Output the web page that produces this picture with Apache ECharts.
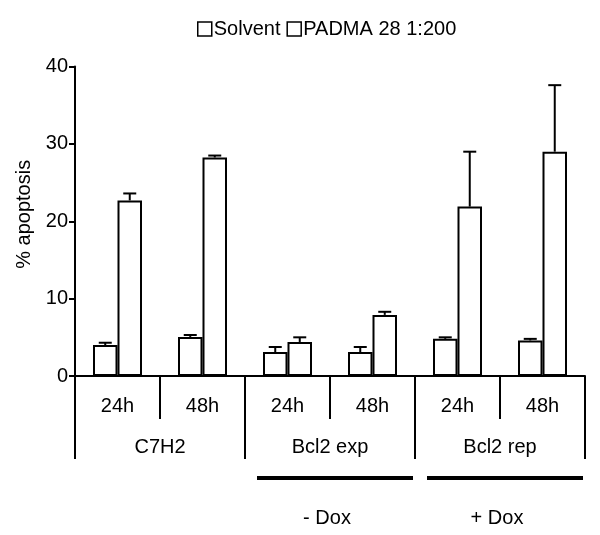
<!DOCTYPE html>
<html>
<head>
<meta charset="utf-8">
<script src="https://cdn.jsdelivr.net/npm/echarts@6/dist/echarts.min.js"></script>
<style>html,body{margin:0;padding:0;background:#fff}#c{width:600px;height:535px}</style>
</head>
<body>
<div id="c"></div>
<script>
const categories = ['24h', '48h', '24h', '48h', '24h', '48h'];
const groups = ['C7H2', 'Bcl2 exp', 'Bcl2 rep'];
const seriesNames = ['Solvent', 'PADMA 28 1:200'];
const solvent = [4.0, 5.05, 3.1, 3.1, 4.8, 4.6];
const solventErr = [0.3, 0.25, 0.65, 0.65, 0.2, 0.2];
const padma = [22.7, 28.25, 4.4, 7.9, 21.9, 29.0];
const padmaErr = [0.9, 0.25, 0.6, 0.4, 7.1, 8.6];
const treatmentGroups = [1, 2];
const treatments = ['- Dox', '+ Dox'];
const yTicks = { min: 0, max: 40, interval: 10 };

const FONT = '"Liberation Sans", Arial, sans-serif';
const BAR_W = 24.5;

function errData(vals, errs) { return vals.map((v, i) => [i, v, errs[i]]); }

function errRender(side) {
  return function (params, api) {
    const i = api.value(0), v = api.value(1), e = api.value(2);
    const base = api.coord([i, v]);
    const top = api.coord([i, v + e]);
    const x = base[0] + side * BAR_W / 2;
    const style = { stroke: '#000', lineWidth: 2 };
    return {
      type: 'group',
      children: [
        { type: 'line', shape: { x1: x, y1: base[1], x2: x, y2: top[1] }, style },
        { type: 'line', shape: { x1: x - 6.5, y1: top[1], x2: x + 6.5, y2: top[1] }, style }
      ]
    };
  };
}

const chart = echarts.init(document.getElementById('c'));
chart.setOption({
  animation: false,
  textStyle: { fontFamily: FONT, color: '#000' },
  legend: {
    data: seriesNames,
    left: 192, top: 14,
    icon: 'rect', itemWidth: 14, itemHeight: 14, itemGap: 6,
    itemStyle: { color: '#fff', borderColor: '#000', borderWidth: 1.5 },
    textStyle: { fontFamily: FONT, fontSize: 20, color: '#000', padding: [0, 0, 0, -3] }
  },
  grid: { left: 75, right: 15, top: 66.6, bottom: 159, containLabel: false },
  xAxis: [
    {
      type: 'category', data: categories,
      axisLine: { lineStyle: { color: '#000', width: 2 } },
      axisTick: { show: true, length: 43, interval: 0, lineStyle: { color: '#000', width: 2 } },
      axisLabel: { fontFamily: FONT, fontSize: 20, color: '#000', margin: 20, interval: 0 }
    },
    {
      type: 'category', data: groups, position: 'bottom',
      axisLine: { show: false },
      axisTick: { show: true, length: 83, interval: 0, lineStyle: { color: '#000', width: 2 } },
      axisLabel: { fontFamily: FONT, fontSize: 20, color: '#000', margin: 61, interval: 0 }
    }
  ],
  yAxis: {
    type: 'value', min: yTicks.min, max: yTicks.max, interval: yTicks.interval,
    name: '% apoptosis', nameLocation: 'middle', nameGap: 41,
    nameTextStyle: { fontFamily: FONT, fontSize: 20, color: '#000', padding: [0, 0, 0, 14] },
    axisLine: { show: true, lineStyle: { color: '#000', width: 2 } },
    axisTick: { show: true, length: 6, lineStyle: { color: '#000', width: 2 } },
    axisLabel: { fontFamily: FONT, fontSize: 20, color: '#000', margin: 7 },
    splitLine: { show: false }
  },
  series: [
    {
      name: seriesNames[0], type: 'bar', data: solvent, barWidth: BAR_W, barGap: '0%',
      itemStyle: { color: '#fff', borderColor: '#000', borderWidth: 2 }
    },
    {
      name: seriesNames[1], type: 'bar', data: padma, barWidth: BAR_W, barGap: '0%',
      itemStyle: { color: '#fff', borderColor: '#000', borderWidth: 2 }
    },
    {
      type: 'custom', data: errData(solvent, solventErr), renderItem: errRender(-1), z: 5, silent: true
    },
    {
      type: 'custom', data: errData(padma, padmaErr), renderItem: errRender(1), z: 5, silent: true
    },
    {
      type: 'custom', xAxisIndex: 1, clip: false, silent: true,
      data: treatmentGroups.map((g, k) => [g, 0, treatments[k]]),
      renderItem: function (params, api) {
        const g = api.value(0);
        const p = api.coord([g, 0]);
        const band = api.size([1, 0])[0];
        const label = treatments[params.dataIndex];
        return {
          type: 'group',
          children: [
            { type: 'rect', shape: { x: p[0] - band / 2 + 12, y: p[1] + 100, width: band - 14, height: 4 }, style: { fill: '#000' } },
            { type: 'text', x: p[0] - 3, y: p[1] + 142, style: { text: label, fill: '#000', font: '20px ' + FONT, align: 'center', verticalAlign: 'middle' } }
          ]
        };
      }
    }
  ]
});
</script>
</body>
</html>
